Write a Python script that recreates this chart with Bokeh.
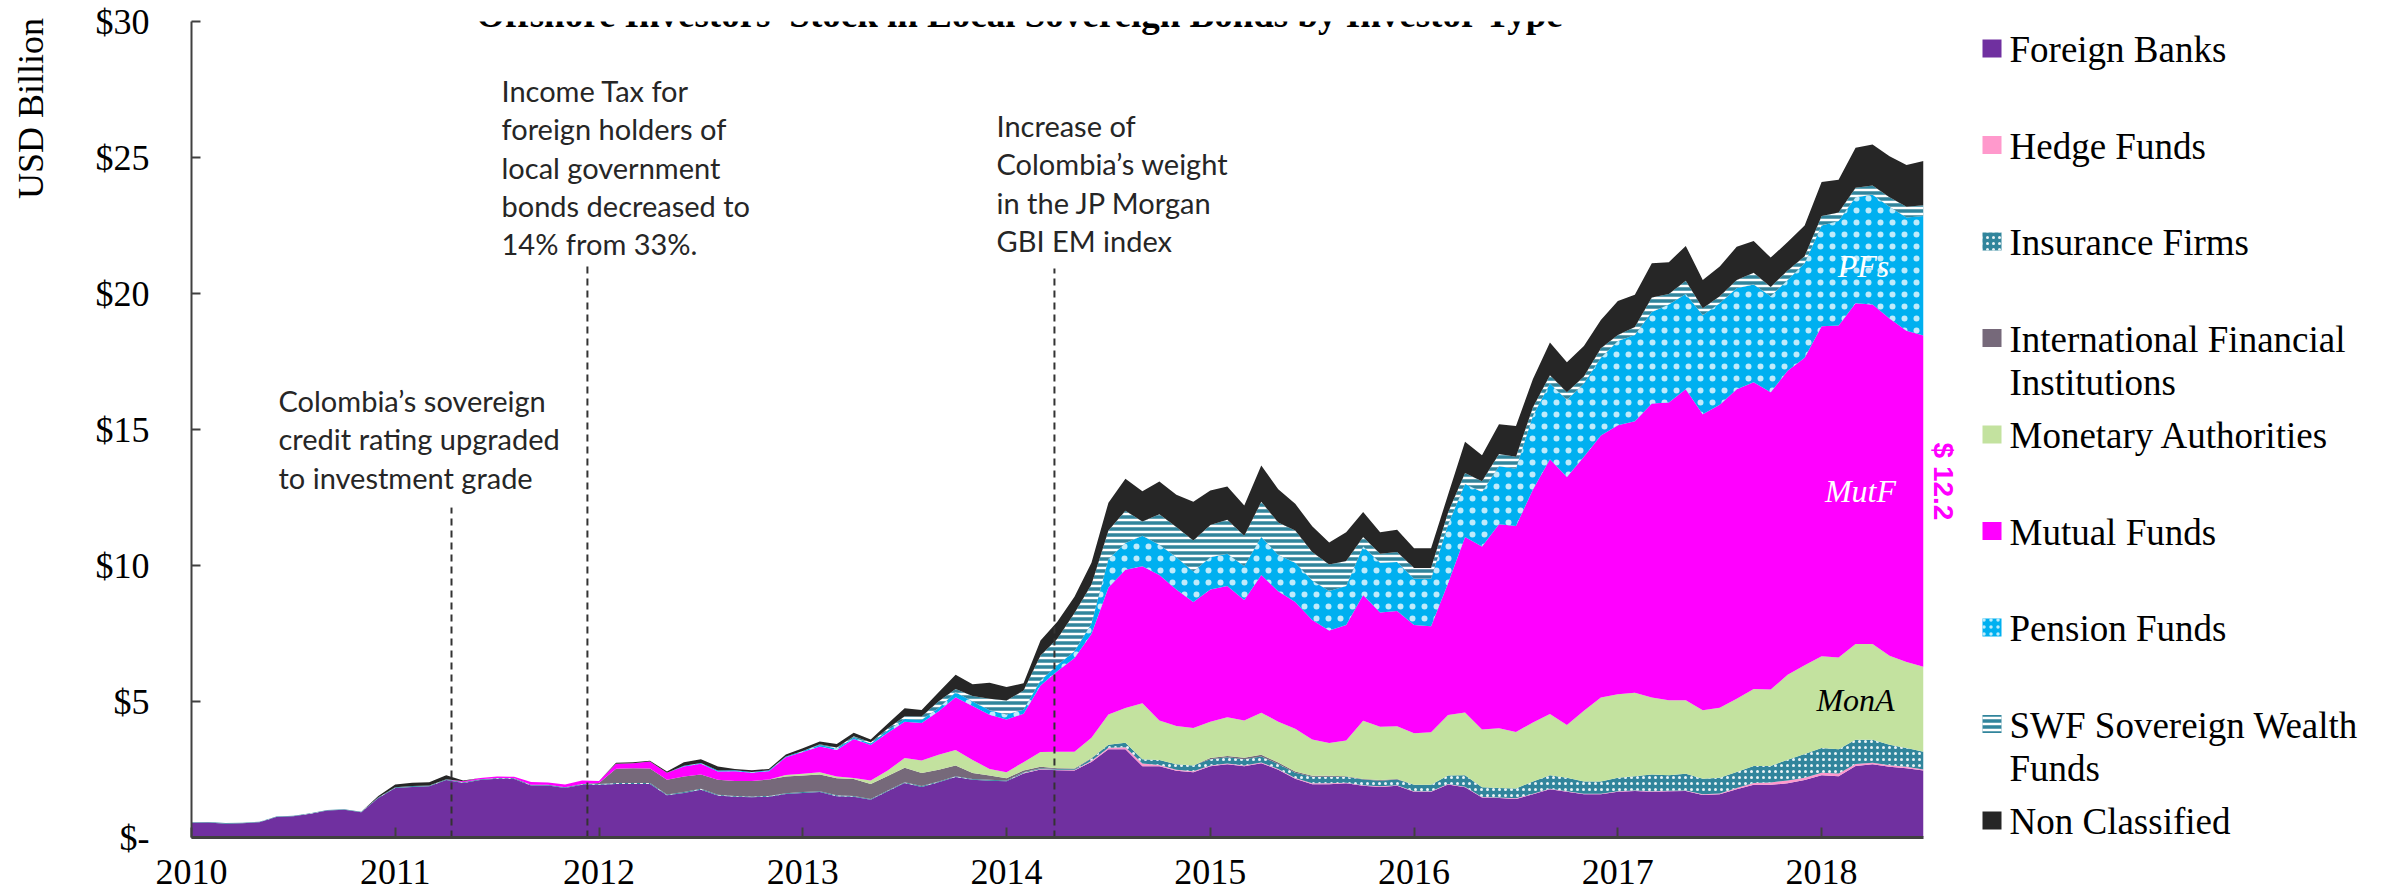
from math import pi
from bokeh.plotting import figure
from bokeh.models import ColumnDataSource, Range1d, FixedTicker, Label
from bokeh.layouts import row
from bokeh.transform import stack
from bokeh.core.properties import value
from bokeh.embed import file_html
from bokeh.resources import INLINE

# ---------------- data (USD billion, monthly Jan-2010 .. Jul-2018) ----------------
foreign_banks = [
    0.54, 0.55, 0.51, 0.52, 0.56, 0.75, 0.78, 0.87, 0.99, 1.02, 0.93,
    1.45, 1.82, 1.86, 1.88, 2.11, 2.00, 2.11, 2.16, 2.15, 1.91, 1.91, 1.82, 1.94, 1.94,
    1.97, 1.97, 1.97, 1.55, 1.64, 1.76, 1.54, 1.50, 1.48, 1.50,
    1.60, 1.64, 1.67, 1.52, 1.50, 1.39, 1.70, 2.00, 1.86, 2.03, 2.22, 2.12, 2.09, 2.07, 2.35, 2.50,
    2.47, 2.46, 2.78, 3.24, 3.24, 2.62, 2.62, 2.45, 2.40, 2.62,
    2.69, 2.62, 2.73, 2.49, 2.16, 1.96, 1.96, 1.99, 1.90, 1.86,
    1.90, 1.68, 1.68, 1.95, 1.85, 1.47, 1.45, 1.42, 1.59, 1.77,
    1.68, 1.59, 1.59, 1.68, 1.71, 1.68, 1.70, 1.71, 1.56, 1.59,
    1.77, 1.94, 1.94, 1.99, 2.11, 2.29, 2.25, 2.63, 2.69, 2.60, 2.55, 2.46]
hedge_funds = [
    0, 0, 0, 0, 0, 0, 0, 0, 0, 0, 0, 0, 0, 0, 0, 0, 0, 0, 0, 0,
    0, 0, 0, 0, 0, 0, 0, 0, 0, 0, 0, 0, 0, 0, 0, 0, 0, 0, 0, 0,
    0, 0, 0, 0, 0, 0, 0, 0, 0,
    0.02, 0.02, 0.02, 0.02, 0.04, 0.06, 0.08, 0.10, 0.05, 0.04, 0.04,
    0.03, 0.03, 0.03, 0.03, 0.03, 0.03, 0.03, 0.03,
    0.02, 0.02, 0.02, 0.02, 0.02, 0.02, 0.02,
    0.02, 0.02, 0.02, 0.02,
    0.02, 0.02, 0.02, 0.02, 0.02, 0.02, 0.02, 0.02, 0.02, 0.02,
    0.03, 0.03, 0.05, 0.06, 0.08, 0.11, 0.09, 0.09, 0.10, 0.07, 0.06, 0.06, 0.05, 0.04]
insurance_firms = [
    0.02, 0.02, 0.02, 0.02, 0.02, 0.02, 0.02, 0.02, 0.02, 0.02, 0.02,
    0.03, 0.03, 0.03, 0.03, 0.03, 0.03, 0.03, 0.03, 0.03, 0.03, 0.03, 0.03, 0.03, 0.03,
    0.03, 0.03, 0.03, 0.03, 0.03, 0.03, 0.03, 0.03, 0.03, 0.03, 0.03, 0.03, 0.03, 0.03,
    0.03, 0.03, 0.03, 0.03, 0.03, 0.03, 0.03, 0.03, 0.03, 0.03, 0.03, 0.03, 0.03, 0.03,
    0.08, 0.11, 0.16, 0.16, 0.18, 0.20, 0.21, 0.23, 0.23, 0.23,
    0.22, 0.18, 0.19, 0.24, 0.24, 0.22, 0.21, 0.21, 0.21, 0.24,
    0.24, 0.31, 0.42, 0.36, 0.35, 0.36, 0.45, 0.50, 0.50, 0.45,
    0.45, 0.50, 0.52, 0.62, 0.57, 0.61, 0.57, 0.58, 0.59, 0.63,
    0.61, 0.76, 0.87, 0.91, 0.89, 0.89, 0.84, 0.75, 0.69, 0.65]
intl_fin_inst = [
    0, 0, 0, 0, 0, 0, 0, 0, 0, 0, 0, 0, 0, 0, 0, 0, 0, 0, 0, 0, 0, 0, 0, 0,
    0.03, 0.53, 0.55, 0.54, 0.54, 0.57, 0.53, 0.55, 0.55, 0.57,
    0.60, 0.61, 0.61, 0.62, 0.63, 0.62, 0.55, 0.53, 0.53, 0.48,
    0.43, 0.40, 0.22, 0.16, 0.08, 0.06, 0.05, 0.03, 0.03, 0.02,
    0, 0, 0, 0, 0, 0, 0.04, 0.05, 0.05, 0.06,
    0.06, 0.05, 0.04, 0.04, 0.02, 0.02, 0.02, 0.02,
    0, 0, 0, 0, 0, 0, 0, 0, 0, 0, 0, 0, 0, 0, 0, 0, 0, 0, 0, 0,
    0, 0, 0, 0, 0, 0, 0, 0, 0, 0, 0]
monetary_auth = [
    0, 0, 0, 0, 0, 0, 0, 0, 0, 0, 0, 0, 0, 0, 0, 0, 0, 0, 0, 0,
    0, 0, 0, 0, 0, 0, 0, 0, 0, 0, 0, 0, 0, 0, 0,
    0.06, 0.06, 0.08, 0.06, 0.04, 0.13, 0.20, 0.36, 0.46, 0.55,
    0.57, 0.48, 0.24, 0.22, 0.31, 0.54, 0.60, 0.61, 0.75, 1.11,
    1.28, 2.06, 1.45, 1.41, 1.38, 1.34, 1.42, 1.37, 1.55, 1.50,
    1.57, 1.33, 1.20, 1.32, 2.14, 1.96, 1.94, 1.89, 1.93, 2.22,
    2.31, 2.12, 2.20, 2.08, 2.17, 2.25, 1.94, 2.60, 3.09, 3.07,
    3.07, 2.83, 2.76, 2.71, 2.52, 2.57, 2.69, 2.83, 2.81, 3.12,
    3.26, 3.37, 3.38, 3.52, 3.52, 3.27, 3.16, 3.13]
mutual_funds = [
    0, 0, 0, 0, 0, 0, 0, 0, 0, 0, 0, 0, 0, 0, 0, 0,
    0.04, 0.05, 0.05, 0.05, 0.10, 0.08, 0.10, 0.13, 0.08, 0.18,
    0.18, 0.25, 0.26, 0.37, 0.39, 0.31, 0.36, 0.30, 0.31, 0.65,
    0.80, 0.95, 0.98, 1.43, 1.30, 1.39, 1.34, 1.38, 1.60, 1.94,
    1.98, 1.99, 1.94, 1.78, 2.45, 2.97, 3.45, 3.81, 4.67, 5.08,
    5.03, 5.35, 5.02, 4.63, 4.86, 4.83, 4.43, 5.06, 4.79, 4.66,
    4.40, 4.14, 4.24, 4.63, 4.20, 4.24, 3.98, 3.90, 4.85, 6.45,
    6.73, 7.50, 7.57, 8.56, 9.37, 9.11, 9.34, 9.63, 9.89, 9.98,
    10.81, 10.94, 11.43, 10.88, 11.14, 11.38, 11.28, 10.93, 11.18, 11.31,
    12.14, 12.20, 12.53, 12.49, 12.40, 12.18, 12.18]
pension_funds = [
    0, 0, 0, 0, 0, 0, 0, 0, 0, 0, 0, 0, 0, 0, 0, 0, 0, 0, 0, 0,
    0, 0, 0, 0, 0, 0, 0, 0, 0,
    0.03, 0.03, 0.03, 0.03, 0.03, 0.03, 0.03, 0.04, 0.05, 0.05,
    0.05, 0.06, 0.08, 0.10, 0.12, 0.12, 0.18, 0.17, 0.17, 0.18,
    0.15, 0.18, 0.22, 0.25, 0.39, 1.05, 0.99, 1.12, 1.11, 1.18,
    1.12, 1.18, 1.18, 1.24, 1.40, 1.34, 1.44, 1.45, 1.45, 1.44,
    1.78, 1.83, 1.80, 1.70, 1.74, 2.15, 1.95, 2.00, 2.13, 2.11,
    2.72, 2.78, 2.83, 2.69, 2.86, 3.09, 3.17, 3.36, 3.61, 3.50,
    3.64, 3.73, 3.71, 3.59, 3.53, 3.34, 3.47, 3.70, 3.85, 3.90,
    4.03, 4.11, 4.16, 4.39]
swf_funds = [
    0, 0, 0, 0, 0, 0, 0, 0, 0, 0, 0, 0, 0, 0, 0, 0, 0, 0, 0, 0,
    0, 0, 0, 0, 0, 0, 0, 0, 0, 0, 0, 0, 0, 0, 0, 0, 0,
    0.03, 0.04, 0.05, 0.04, 0.08, 0.10, 0.12, 0.25, 0.12, 0.20,
    0.42, 0.52, 0.70, 0.92, 0.98, 1.40, 1.43, 1.05, 1.18, 0.53,
    1.12, 1.12, 1.14, 1.19, 1.25, 1.12, 1.29, 1.19, 1.19, 1.05,
    0.98, 0.92, 0.35, 0.33, 0.37, 0.40, 0.40, 0.45, 0.40, 0.40,
    0.45, 0.44, 0.31, 0.30, 0.29, 0.26, 0.35, 0.22, 0.30, 0.53,
    0.38, 0.49, 0.26, 0.26, 0.31, 0.43, 0.34, 0.35, 0.26, 0.35,
    0.31, 0.35, 0.34, 0.35, 0.40, 0.39]
non_classified = [
    0, 0, 0, 0, 0, 0, 0, 0, 0, 0, 0,
    0.05, 0.10, 0.12, 0.12, 0.15, 0.03,
    0, 0, 0, 0, 0, 0, 0, 0,
    0.04, 0.04, 0.03, 0.05, 0.13, 0.14, 0.15, 0.05, 0.06, 0.05,
    0.07, 0.10, 0.10, 0.13, 0.13, 0.10, 0.17, 0.29, 0.24, 0.33,
    0.52, 0.43, 0.59, 0.49, 0.27, 0.55, 0.62, 0.60, 0.80, 1.02,
    1.18, 1.11, 1.21, 1.18, 1.42, 1.27, 1.22, 1.12, 1.34, 1.22,
    0.98, 0.94, 0.81, 1.05, 0.92, 0.79, 0.81, 0.72, 0.72, 0.65,
    1.15, 0.95, 1.09, 1.13, 1.04, 1.21, 1.10, 1.12, 1.04, 1.25,
    1.18, 1.26, 1.17, 1.28, 1.04, 1.09, 1.22, 1.17, 1.08, 1.04,
    1.13, 1.25, 1.20, 1.47, 1.51, 1.51, 1.53, 1.63]

series_names = ["Foreign Banks", "Hedge Funds", "Insurance Firms",
                "International Financial\nInstitutions", "Monetary Authorities",
                "Mutual Funds", "Pension Funds", "SWF Sovereign Wealth\nFunds",
                "Non Classified"]
series_keys = ["fb", "hf", "ins", "ifi", "mona", "mutf", "pf", "swf", "nc"]
series_values = [foreign_banks, hedge_funds, insurance_firms, intl_fin_inst, monetary_auth,
                 mutual_funds, pension_funds, swf_funds, non_classified]
series_colors = ["#7030A0", "#FF99CC", "#31859C", "#76697A", "#C3E29F",
                 "#FF00FF", "#00B0F0", "#31859C", "#262626"]
# (pattern, scale, weight, alpha)
series_hatch = {"ins": ("dot", 6, 1.0, 0.9),
                "pf": ("dot", 12, 1.0, 0.75),
                "swf": ("horizontal_line", 6, 2.5, 1.0)}

year_ticks = [2010, 2011, 2012, 2013, 2014, 2015, 2016, 2017, 2018]
y_ticks = [0, 5, 10, 15, 20, 25, 30]
y_tick_labels = ["$-", "$5", "$10", "$15", "$20", "$25", "$30"]

event_dates = [2011.276, 2011.943, 2014.235]
event_tops = [12.13, 21.14, 20.92]
event_texts = [
    ["Colombia\u2019s sovereign", "credit rating upgraded", "to investment grade"],
    ["Income Tax for", "foreign holders of", "local government", "bonds decreased to", "14% from 33%."],
    ["Increase of", "Colombia\u2019s weight", "in the JP Morgan", "GBI EM index"],
]

title_text = "Offshore Investors\u2019 Stock in Local Sovereign Bonds by Investor Type"


def hatch_kw(key, legend=False):
    if key not in series_hatch:
        return {}
    pat, sc, wt, al = series_hatch[key]
    if legend:
        sc = min(sc, 7)
    return dict(hatch_pattern=pat, hatch_scale=sc, hatch_weight=wt, hatch_alpha=al,
                hatch_color="white")


# ---------------- layout (window pixels) ----------------
H = 896
W_LEFT = 62          # panel with the rotated y title
MAIN_END = 1924      # main figure spans W_LEFT .. MAIN_END
W_TOTAL = 2394
FL, FR, FT, FB = 191, 1923, 21, 837   # plot frame

n = len(foreign_banks)
months = [2010 + i / 12 for i in range(n)]
X0, X1 = 2010, months[-1]
Y0, Y1 = 0, 30
PXX = (FR - FL) / (X1 - X0)
PXY = (FB - FT) / (Y1 - Y0)


def dx(wx):
    return X0 + (wx - FL) / PXX


def dy(wy):
    return Y0 + (FB - wy) / PXY


def unalign(f):
    if "frame_align" in f.properties():
        f.frame_align = False


def plain_panel(width, x_start):
    f = figure(width=width, height=H, x_range=Range1d(x_start, x_start + width),
               y_range=Range1d(0, H), output_backend="svg", toolbar_location=None,
               min_border=0, x_axis_location=None, y_axis_location=None)
    unalign(f)
    f.xgrid.visible = False
    f.ygrid.visible = False
    f.outline_line_color = None
    f.background_fill_color = "white"
    f.border_fill_color = "white"
    return f


# ---------------- left panel: rotated y title ----------------
left = plain_panel(W_LEFT, 0)
left.text(x=[30], y=[H - 108], text=["USD Billion"], angle=pi / 2,
          text_font=value("Liberation Serif"), text_font_size="36px",
          text_align="center", text_baseline="middle", text_color="#000000")

# ---------------- main chart ----------------
data = dict(x=months)
for k, v in zip(series_keys, series_values):
    data[k] = v
src = ColumnDataSource(data)

p = figure(width=MAIN_END - W_LEFT, height=H, x_range=Range1d(X0, X1), y_range=Range1d(Y0, Y1),
           output_backend="svg", toolbar_location=None,
           min_border_left=FL - W_LEFT, min_border_right=MAIN_END - FR,
           min_border_top=FT, min_border_bottom=H - FB)
unalign(p)
p.xgrid.visible = False
p.ygrid.visible = False
p.outline_line_color = None
p.background_fill_color = "white"
p.border_fill_color = "white"

for i, k in enumerate(series_keys):
    kw = dict(x="x", y1=stack(*series_keys[:i]) if i else 0, y2=stack(*series_keys[:i + 1]),
              source=src, fill_color=series_colors[i])
    kw.update(hatch_kw(k))
    p.varea(**kw)

# event dashed lines
p.segment(x0=event_dates, y0=[0] * len(event_dates), x1=event_dates, y1=event_tops,
          line_color="#333333", line_width=2, line_dash="7 5")

ya = p.yaxis[0]
ya.ticker = FixedTicker(ticks=y_ticks)
ya.major_label_overrides = {t: lab for t, lab in zip(y_ticks, y_tick_labels)}
ya.major_label_text_font = "Liberation Serif"
ya.major_label_text_font_size = "36px"
ya.major_label_text_color = "#000000"
ya.major_label_standoff = 42
ya.major_tick_in = 9
ya.major_tick_out = 0
ya.minor_tick_line_color = None
ya.axis_line_width = 2
ya.axis_line_color = "#404040"
ya.major_tick_line_color = "#404040"
ya.major_tick_line_width = 2

xa = p.xaxis[0]
xa.ticker = FixedTicker(ticks=year_ticks)
xa.major_label_overrides = {t: str(t) for t in year_ticks}
xa.major_label_text_font = "Liberation Serif"
xa.major_label_text_font_size = "36px"
xa.major_label_text_color = "#000000"
xa.major_label_standoff = 22
xa.major_tick_in = 10
xa.major_tick_out = 0
xa.minor_tick_line_color = None
xa.axis_line_width = 3
xa.axis_line_color = "#404040"
xa.major_tick_line_color = "#404040"
xa.major_tick_line_width = 2

# chart title (cut off at the top, as in the original slide)
p.add_layout(Label(x=dx(1021), y=dy(14), text=title_text, text_align="center",
                   text_baseline="alphabetic", text_font="Liberation Serif",
                   text_font_style="bold", text_font_size="37px", text_color="#000000"))

# event notes
note_pos = [(278, 400), (501, 90), (996, 125)]
LINE_H = 38.3
for (wx, wy), lines in zip(note_pos, event_texts):
    for j, ln in enumerate(lines):
        p.add_layout(Label(x=dx(wx), y=dy(wy + j * LINE_H), text=ln, text_align="left",
                           text_baseline="middle", text_font="Lato", text_font_size="29px",
                           text_color="#262626"))

# in-area labels
p.add_layout(Label(x=dx(1863), y=dy(265), text="PFs", text_align="center", text_baseline="middle",
                   text_font="Liberation Serif", text_font_style="italic",
                   text_font_size="32px", text_color="white"))
p.add_layout(Label(x=dx(1860), y=dy(490), text="MutF", text_align="center", text_baseline="middle",
                   text_font="Liberation Serif", text_font_style="italic",
                   text_font_size="32px", text_color="white"))
p.add_layout(Label(x=dx(1855), y=dy(699), text="MonA", text_align="center", text_baseline="middle",
                   text_font="Liberation Serif", text_font_style="italic",
                   text_font_size="32px", text_color="black"))

# ---------------- right panel: end value + legend ----------------
lf = plain_panel(W_TOTAL - MAIN_END, MAIN_END)
lf.text(x=[1943], y=[H - 481], text=[f"$ {mutual_funds[-1]:.1f}"], angle=-pi / 2,
        text_font=value("Liberation Sans"), text_font_style="bold", text_font_size="28px",
        text_align="center", text_baseline="middle", text_color="#FF00FF")

ITEM0, ITEM_STEP, SUB_STEP = 48, 96.5, 43
tx, ty, tt = [], [], []
for i, k in enumerate(series_keys):
    wy = ITEM0 + ITEM_STEP * i
    kw = dict(x=1991.5, y=H - wy, width=19, height=18, fill_color=series_colors[i], line_color=None)
    kw.update(hatch_kw(k, legend=True))
    lf.rect(**kw)
    for j, ln in enumerate(series_names[i].split("\n")):
        tx.append(2009)
        ty.append(H - (wy + 1 + j * SUB_STEP))
        tt.append(ln)
lf.text(x=tx, y=ty, text=tt, text_font=value("Liberation Serif"), text_font_size="37px",
        text_baseline="middle", text_align="left", text_color="#000000")
# slide page number, cut by the bottom edge
lf.text(x=[2377], y=[H - 908], text=["2"], text_font=value("Liberation Sans"), text_font_size="36px",
        text_baseline="alphabetic", text_align="left", text_color="#8C8C8C")

layout = row(left, p, lf)
open("out.html", "w").write(file_html(layout, INLINE, title="Offshore Investors"))
